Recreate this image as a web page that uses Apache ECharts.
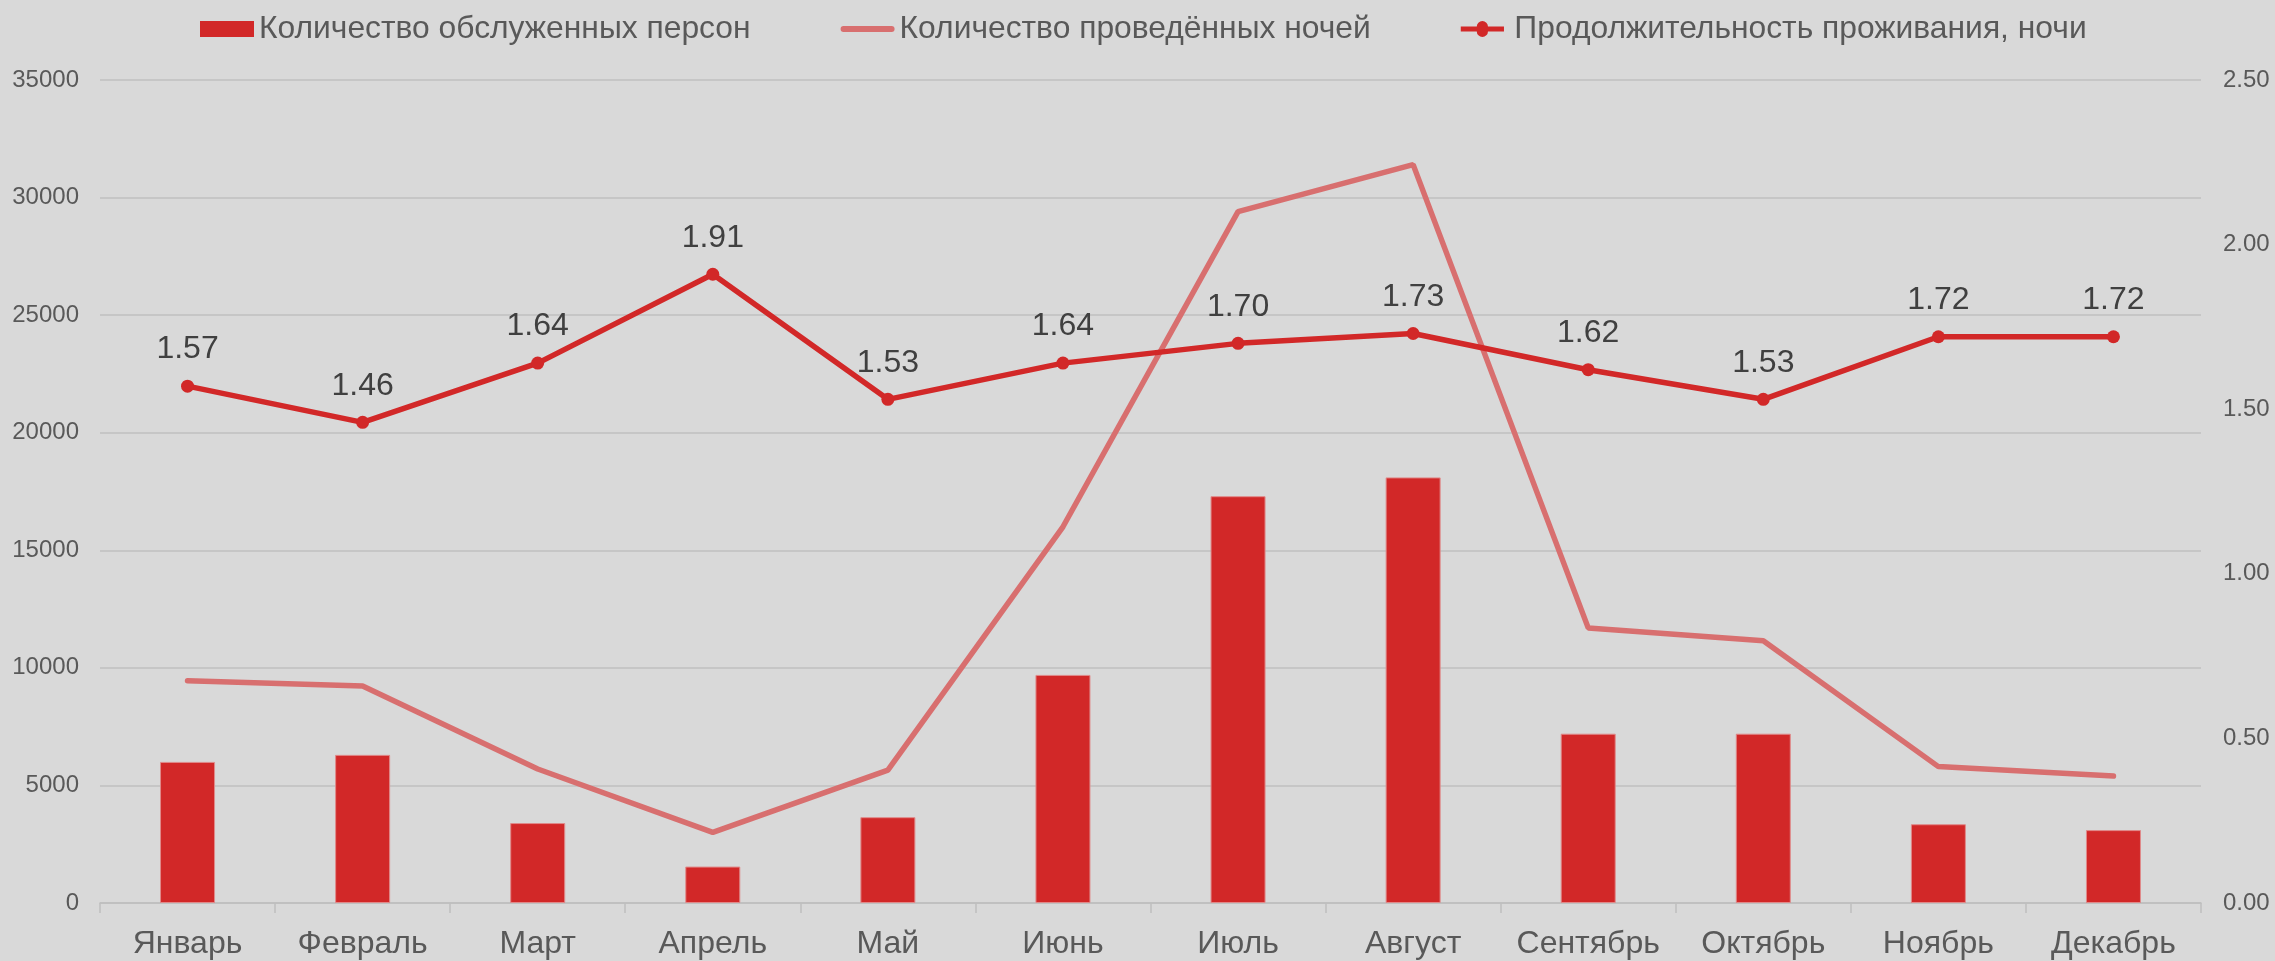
<!DOCTYPE html>
<html>
<head>
<meta charset="utf-8">
<title>Проживание по месяцам</title>
<script src="https://cdn.jsdelivr.net/npm/echarts@6/dist/echarts.min.js"></script>
<style>
    html, body {
        margin: 0;
        padding: 0;
        background: #d9d9d9;
    }
    #chart {
        width: 2275px;
        height: 961px;
    }
</style>
</head>
<body>
<div id="chart"></div>
<script>
    // данные по месяцам
    const months = ['Январь', 'Февраль', 'Март', 'Апрель', 'Май', 'Июнь', 'Июль', 'Август', 'Сентябрь', 'Октябрь', 'Ноябрь', 'Декабрь'];
    const persons = [6000, 6300, 3400, 1550, 3650, 9700, 17300, 18100, 7200, 7200, 3350, 3100];
    const nights = [9450, 9230, 5700, 3000, 5650, 16000, 29400, 31400, 11700, 11150, 5800, 5400];
    const duration = [1.57, 1.46, 1.64, 1.91, 1.53, 1.64, 1.70, 1.73, 1.62, 1.53, 1.72, 1.72];

    const font = '"Liberation Sans", Arial, sans-serif';

    // иконки легенды: толстая линия и линия с точкой
    const lineIcon = 'path://M3,5 L51,5 A3,3 0 0 1 51,11 L3,11 A3,3 0 0 1 3,5 Z';
    const dotLineIcon = 'path://M0,5 L20,5 A7,7 0 0 1 34,5 L54,5 L54,11 L34,11 A7,7 0 0 1 20,11 L0,11 Z';

    let chart = echarts.init(document.getElementById('chart'));

    let option = {
        backgroundColor: '#d9d9d9',
        animation: false,
        textStyle: {
            fontFamily: font
        },
        legend: {
            left: 195,
            top: 8,
            itemWidth: 54,
            itemHeight: 16,
            itemGap: 90,
            textStyle: {
                color: '#595959',
                fontSize: 31.8,
                fontFamily: font
            },
            data: [
                {name: 'Количество обслуженных персон', icon: 'rect', itemStyle: {borderWidth: 0}},
                {name: 'Количество проведённых ночей', icon: lineIcon},
                {name: 'Продолжительность проживания, ночи', icon: dotLineIcon}
            ]
        },
        grid: {
            left: 100,
            right: 74,
            top: 80,
            bottom: 58
        },
        xAxis: {
            type: 'category',
            data: months,
            axisLine: {
                lineStyle: {
                    color: '#bfbfbf',
                    width: 1.5
                }
            },
            axisTick: {
                show: true,
                interval: 0,
                length: 10,
                lineStyle: {
                    color: '#bfbfbf',
                    width: 1.5
                }
            },
            axisLabel: {
                color: '#595959',
                fontSize: 32,
                interval: 0,
                margin: 25
            }
        },
        yAxis: [
            {
                type: 'value',
                min: 0,
                max: 35000,
                interval: 5000,
                axisLine: {show: false},
                axisTick: {show: false},
                axisLabel: {
                    color: '#595959',
                    fontSize: 24,
                    margin: 21,
                    formatter: v => String(v)
                },
                splitLine: {
                    lineStyle: {
                        color: '#bfbfbf',
                        width: 1.5
                    }
                }
            },
            {
                type: 'value',
                min: 0,
                max: 2.5,
                interval: 0.5,
                axisLine: {show: false},
                axisTick: {show: false},
                splitLine: {show: false},
                axisLabel: {
                    color: '#595959',
                    fontSize: 24,
                    margin: 22,
                    formatter: v => v.toFixed(2)
                }
            }
        ],
        series: [
            {
                name: 'Количество обслуженных персон',
                type: 'bar',
                data: persons,
                barWidth: 55,
                itemStyle: {
                    color: '#d22828',
                    borderColor: '#e08a8a',
                    borderWidth: 1
                }
            },
            {
                name: 'Количество проведённых ночей',
                type: 'line',
                data: nights,
                symbol: 'none',
                lineStyle: {
                    color: '#d86f6f',
                    width: 5.5,
                    cap: 'round'
                },
                itemStyle: {
                    color: '#d86f6f'
                }
            },
            {
                name: 'Продолжительность проживания, ночи',
                type: 'line',
                yAxisIndex: 1,
                data: duration,
                symbol: 'circle',
                symbolSize: 13,
                lineStyle: {
                    color: '#d22828',
                    width: 5.5
                },
                itemStyle: {
                    color: '#d22828'
                },
                label: {
                    show: true,
                    position: 'top',
                    distance: 14,
                    color: '#404040',
                    fontSize: 32,
                    formatter: p => p.value.toFixed(2)
                }
            }
        ]
    };

    chart.setOption(option);
</script>
</body>
</html>
